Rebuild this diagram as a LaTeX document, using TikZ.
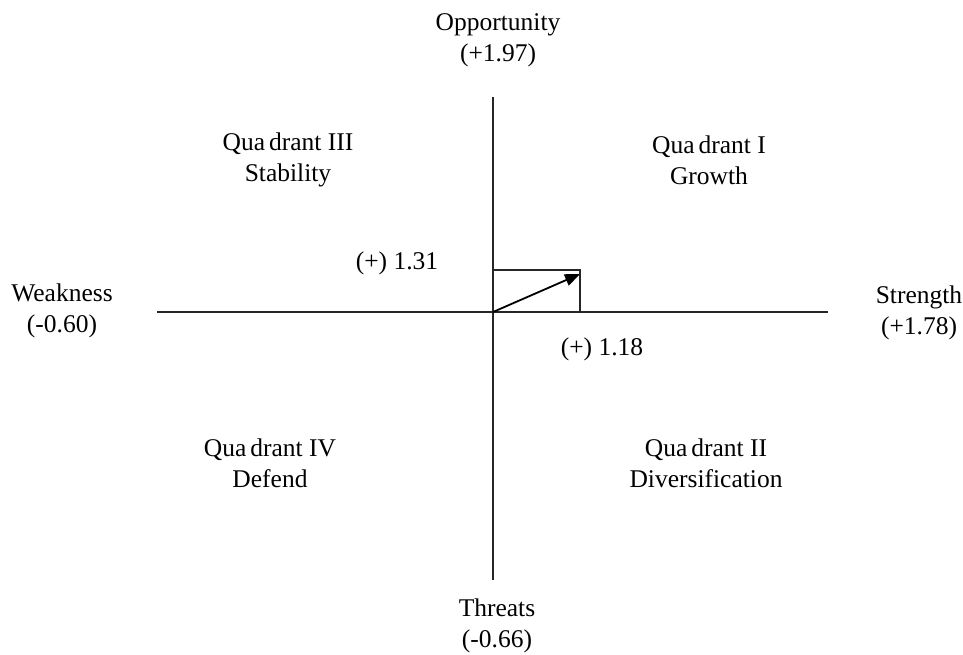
\documentclass[tikz,border=0pt]{standalone}
\usepackage{fontspec}
\setmainfont{Liberation Serif}
\usetikzlibrary{arrows.meta}
\begin{document}
\begin{tikzpicture}[x=1pt,y=-1pt,
  lbl/.style={align=center,inner sep=0pt,font=\fontsize{25.5}{31}\selectfont},
  axis/.style={line width=1.8pt,black!85},
  vec/.style={line width=1.8pt,-{Triangle[length=15pt,width=12pt]}}]
\useasboundingbox (0,0) rectangle (963,654);
\coordinate (O) at (493,312);
\coordinate (top) at (493,97);
\coordinate (bot) at (493,580);
\coordinate (lft) at (157,312);
\coordinate (rgt) at (828,312);
\coordinate (c1) at (493,270);
\coordinate (c2) at (580,270);
\coordinate (c3) at (580,312);
\coordinate (tip) at (580,274);
\draw[axis] (top) -- (bot);
\draw[axis] (lft) -- (rgt);
\draw[axis] (c1) -- (c2) -- (c3);
\draw[vec] (O) -- (tip);
\node[lbl] (opp) at (498,40) {Opportunity\\(+1.97)};
\node[lbl] (thr) at (497,626) {Threats\\(-0.66)};
\node[lbl] (wk) at (62,311) {Weakness\\(-0.60)};
\node[lbl] (st) at (919,313) {Strength\\(+1.78)};
\node[lbl] (q3) at (288,160) {Qua\hspace{4pt}drant III\\Stability};
\node[lbl] (q1) at (709,160) {Qua\hspace{4pt}drant I\\Growth};
\node[lbl] (q4) at (270,463) {Qua\hspace{4pt}drant IV\\Defend};
\node[lbl] (q2) at (706,463) {Qua\hspace{4pt}drant II\\Diversification};
\node[lbl] (v1) at (397,263) {(+) 1.31};
\node[lbl] (v2) at (602,349) {(+) 1.18};
\end{tikzpicture}
\end{document}
